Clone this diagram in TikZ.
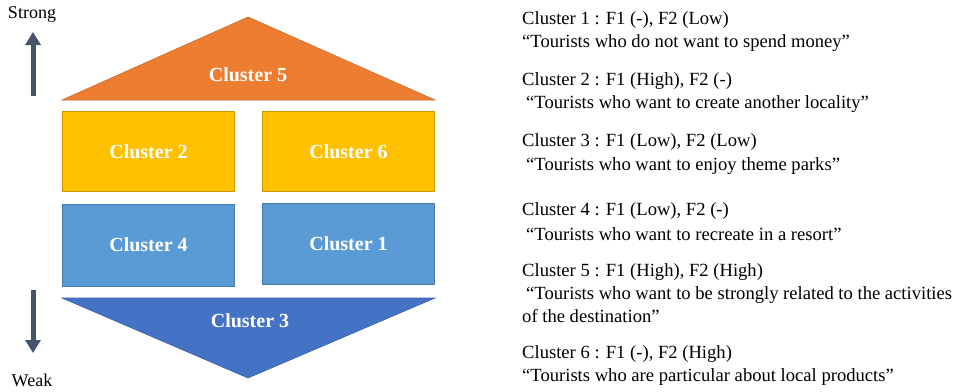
\documentclass[tikz,border=0pt]{standalone}
\usepackage{fontspec}
\setmainfont{Liberation Serif}
\usetikzlibrary{arrows.meta}
\definecolor{corange}{HTML}{ED7D31}
\definecolor{cyellow}{HTML}{FFC000}
\definecolor{cblue}{HTML}{5B9BD5}
\definecolor{cdblue}{HTML}{4472C4}
\definecolor{carrow}{HTML}{44546A}
\tikzset{
  box/.style={draw=#1!80!black, fill=#1, line width=0.8pt, minimum width=172pt, minimum height=80pt, inner sep=0pt},
  lab/.style={text=white, font=\fontsize{20}{22}\selectfont\bfseries},
  desc/.style={anchor=west, inner sep=0pt, font=\fontsize{18.6}{20}\selectfont},
  arr/.style={line width=5pt, draw=carrow, -{Triangle[width=15pt,length=13pt]}},
  side/.style={font=\fontsize{18}{20}\selectfont, inner sep=0pt}
}
\begin{document}
\begin{tikzpicture}[x=1pt,y=-1pt]
\useasboundingbox (0,0) rectangle (961,391);
% Cluster 5 triangle
\draw[fill=corange, draw=corange!85!black, line width=0.6pt] (62,100) -- (248,17) -- (435,100) -- cycle;
\node[lab] (c5) at (248,75) {Cluster 5};
% boxes
\node[box=cyellow] (c2) at (148.5,151.5) {};
\node[lab] at (c2) {Cluster 2};
\node[box=cyellow] (c6) at (348.5,151.5) {};
\node[lab] at (c6) {Cluster 6};
\node[box=cblue, minimum height=82pt] (c4) at (148.5,245) {};
\node[lab] at (c4) {Cluster 4};
\node[box=cblue, minimum height=81pt] (c1) at (348.5,243.5) {};
\node[lab] at (c1) {Cluster 1};
% Cluster 3 triangle
\draw[fill=cdblue, draw=cdblue!85!black, line width=0.6pt] (62,298) -- (435,298) -- (248,378) -- cycle;
\node[lab] (c3) at (250,321) {Cluster 3};
% arrows
\node[side] (strong) at (32,14) {Strong};
\node[side] (weak) at (32,380) {Weak};
\coordinate (ua) at (33,96);
\coordinate (ub) at (33,32);
\coordinate (da) at (33,290);
\coordinate (db) at (33,353);
\draw[arr] (ua) -- (ub);
\draw[arr] (da) -- (db);
% descriptions
\node[desc] (d1a) at (522,20) {Cluster 1 : F1 (-), F2 (Low)};
\node[desc] (d1b) at (522,43) {“Tourists who do not want to spend money”};
\node[desc] (d2a) at (522,81) {Cluster 2 : F1 (High), F2 (-)};
\node[desc] (d2b) at (526,104) {“Tourists who want to create another locality”};
\node[desc] (d3a) at (522,142) {Cluster 3 : F1 (Low), F2 (Low)};
\node[desc] (d3b) at (526,166) {“Tourists who want to enjoy theme parks”};
\node[desc] (d4a) at (522,211) {Cluster 4 : F1 (Low), F2 (-)};
\node[desc] (d4b) at (526,234) {“Tourists who want to recreate in a resort”};
\node[desc] (d5a) at (522,272) {Cluster 5 : F1 (High), F2 (High)};
\node[desc] (d5b) at (526,295) {“Tourists who want to be strongly related to the activities};
\node[desc] (d5c) at (522,316) {of the destination”};
\node[desc] (d6a) at (522,354) {Cluster 6 : F1 (-), F2 (High)};
\node[desc] (d6b) at (522,377) {“Tourists who are particular about local products”};
\end{tikzpicture}
\end{document}
